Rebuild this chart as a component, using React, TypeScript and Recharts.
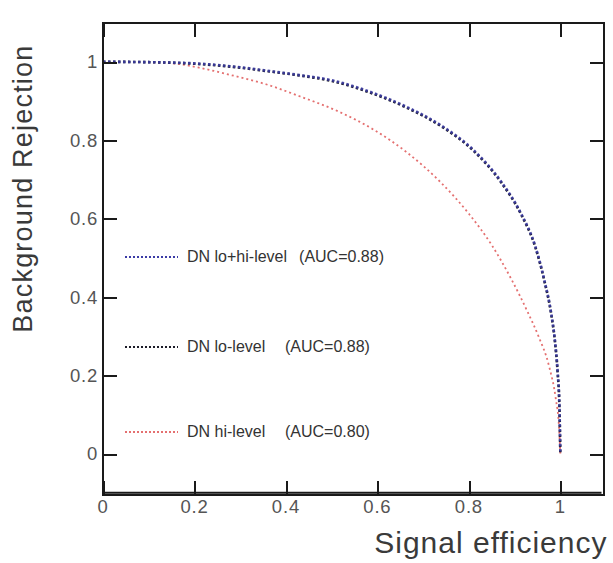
import React from "react";
import { LineChart, Line, XAxis, YAxis, Legend } from "recharts";

// ROC curves (signal efficiency -> background rejection)
const loHiEff = [0, 0.1, 0.2, 0.3, 0.36, 0.43, 0.5, 0.58, 0.66, 0.74, 0.81, 0.87, 0.914, 0.945, 0.965, 0.98, 0.988, 0.994, 0.998, 1.0];
const loHiRej = [1.0, 0.999, 0.996, 0.986, 0.977, 0.966, 0.953, 0.925, 0.887, 0.837, 0.775, 0.695, 0.613, 0.53, 0.443, 0.358, 0.29, 0.21, 0.12, 0.0];

const loEff = [0, 0.1, 0.2, 0.3, 0.36, 0.43, 0.5, 0.58, 0.66, 0.74, 0.81, 0.87, 0.914, 0.945, 0.965, 0.98, 0.988, 0.994, 0.998, 1.0];
const loRej = [1.0, 0.999, 0.995, 0.985, 0.976, 0.965, 0.951, 0.923, 0.885, 0.835, 0.773, 0.693, 0.611, 0.528, 0.441, 0.356, 0.288, 0.208, 0.118, 0.0];

const hiEff = [0, 0.1, 0.16, 0.21, 0.28, 0.358, 0.43, 0.517, 0.59, 0.663, 0.736, 0.8, 0.85, 0.892, 0.929, 0.952, 0.976, 0.99, 0.997, 1.0];
const hiRej = [1.0, 0.999, 0.995, 0.985, 0.966, 0.942, 0.912, 0.872, 0.828, 0.77, 0.695, 0.612, 0.532, 0.447, 0.36, 0.3, 0.22, 0.14, 0.07, 0.0];

const seriesNames = ["DN lo+hi-level", "DN lo-level", "DN hi-level"];
const seriesAuc = ["(AUC=0.88)", "(AUC=0.88)", "(AUC=0.80)"];

const xTicks = [0, 0.2, 0.4, 0.6, 0.8, 1];
const yTicks = [0, 0.2, 0.4, 0.6, 0.8, 1];
const xDomain: [number, number] = [0, 1.09];
const yDomain: [number, number] = [-0.1, 1.1];

const toPoints = (xs: number[], ys: number[]) => xs.map((x, i) => ({ eff: x, rej: ys[i] }));

// layout
const W = 613;
const H = 563;
const MARGIN = { top: 22.6, right: 11.5, left: 0, bottom: 0 };
const X_AXIS_H = 70.3;
const Y_AXIS_W = 103;
const PLOT_L = MARGIN.left + Y_AXIS_W;
const PLOT_T = MARGIN.top;
const PLOT_W = W - MARGIN.left - MARGIN.right - Y_AXIS_W;
const PLOT_H = H - MARGIN.top - MARGIN.bottom - X_AXIS_H;

const FONT = '"Liberation Sans", Arial, Helvetica, sans-serif';
const TICK = 13;
const FRAME = "#1a1a1a";

const styles: Record<string, { stroke: string; width: number; dash: string; opacity?: number }> = {
  "DN lo+hi-level": { stroke: "#3b3ba6", width: 2.6, dash: "2.5 2.5", opacity: 0.85 },
  "DN lo-level": { stroke: "#1c1c28", width: 2.6, dash: "2.5 2.5" },
  "DN hi-level": { stroke: "#e47070", width: 1.8, dash: "2 3" },
};

function BottomTick({ x, y, payload }: any) {
  return (
    <text x={x} y={y + 20} textAnchor="middle" fontSize={18.5} fill="#555" fontFamily={FONT} letterSpacing={0.8}>
      {payload.value}
    </text>
  );
}

function LeftTick({ x, y, payload }: any) {
  return (
    <text x={x - 5} y={y + 6.7} textAnchor="end" fontSize={18.5} fill="#555" fontFamily={FONT} letterSpacing={0.8}>
      {payload.value}
    </text>
  );
}

// box frame (CSS border) plus inward ticks on all four sides, laid over the plot area
function Frame() {
  const px = (v: number) => ((v - xDomain[0]) / (xDomain[1] - xDomain[0])) * PLOT_W;
  const py = (v: number) => ((yDomain[1] - v) / (yDomain[1] - yDomain[0])) * PLOT_H;
  const tickStyle = { position: "absolute" as const, background: FRAME };
  return (
    <div
      style={{
        position: "absolute",
        left: PLOT_L - 1,
        top: PLOT_T - 1,
        width: PLOT_W,
        height: PLOT_H,
        border: `2px solid ${FRAME}`,
        pointerEvents: "none",
        zIndex: 5,
      }}
    >
      {xTicks.map((t) => (
        <React.Fragment key={`x${t}`}>
          <div style={{ ...tickStyle, left: px(t) - 1, top: 0, width: 2, height: TICK }} />
          <div style={{ ...tickStyle, left: px(t) - 1, top: PLOT_H - TICK, width: 2, height: TICK }} />
        </React.Fragment>
      ))}
      {yTicks.map((t) => (
        <React.Fragment key={`y${t}`}>
          <div style={{ ...tickStyle, left: 0, top: py(t) - 1, width: TICK, height: 2 }} />
          <div style={{ ...tickStyle, left: PLOT_W - TICK, top: py(t) - 1, width: TICK, height: 2 }} />
        </React.Fragment>
      ))}
    </div>
  );
}

const xTitle = ({ viewBox }: any) => (
  <text
    x={viewBox.x + viewBox.width + 6}
    y={viewBox.y + 60.6}
    textAnchor="end"
    fontSize={30}
    fill="#3a3a3a"
    fontFamily={FONT}
    letterSpacing={1}
  >
    Signal efficiency
  </text>
);

const yTitle = ({ viewBox }: any) => {
  const cx = viewBox.x + 32;
  const cy = viewBox.y + 166;
  return (
    <text
      x={cx}
      y={cy}
      transform={`rotate(-90 ${cx} ${cy})`}
      textAnchor="middle"
      fontSize={27}
      fill="#3a3a3a"
      fontFamily={FONT}
      letterSpacing={1.2}
    >
      Background Rejection
    </text>
  );
};

const rowTops = [0, 90, 175];

function LegendContent({ payload }: any) {
  const items = [...(payload || [])].sort(
    (a: any, b: any) => seriesNames.indexOf(a.value) - seriesNames.indexOf(b.value)
  );
  return (
    <div style={{ position: "relative", width: 300, height: 200, fontFamily: FONT }}>
      {items.map((entry: any, i: number) => {
        const idx = seriesNames.indexOf(entry.value);
        const s = styles[entry.value];
        return (
          <div
            key={entry.value}
            style={{ position: "absolute", left: 0, top: rowTops[i], height: 20, display: "flex", alignItems: "center", whiteSpace: "nowrap" }}
          >
            <svg width={56} height={10} style={{ marginRight: 6 }}>
              <line x1={0} x2={53} y1={5} y2={5} stroke={s.stroke} strokeWidth={1.8} strokeDasharray="2 2" />
            </svg>
            <span style={{ display: "inline-block", minWidth: 86, fontSize: 16, color: "#333" }}>{entry.value}</span>
            <span style={{ marginLeft: 12, fontSize: 16, color: "#333" }}>{seriesAuc[idx]}</span>
          </div>
        );
      })}
    </div>
  );
}

export default function App() {
  const order = ["DN hi-level", "DN lo-level", "DN lo+hi-level"];
  const dataFor: Record<string, { eff: number; rej: number }[]> = {
    "DN lo+hi-level": toPoints(loHiEff, loHiRej),
    "DN lo-level": toPoints(loEff, loRej),
    "DN hi-level": toPoints(hiEff, hiRej),
  };
  return (
    <div style={{ position: "absolute", left: 0, top: 0, width: W, height: H, background: "#fff" }}>
      <LineChart width={W} height={H} margin={MARGIN}>
        <XAxis
          dataKey="eff"
          type="number"
          domain={xDomain}
          ticks={xTicks}
          allowDataOverflow
          height={X_AXIS_H}
          tickSize={0}
          tickMargin={0}
          tickLine={false}
          axisLine={{ stroke: FRAME, strokeWidth: 2 }}
          tick={<BottomTick />}
          interval={0}
          label={xTitle}
        />
        <YAxis
          type="number"
          domain={yDomain}
          ticks={yTicks}
          allowDataOverflow
          width={Y_AXIS_W}
          tickSize={0}
          tickMargin={0}
          tickLine={false}
          axisLine={{ stroke: FRAME, strokeWidth: 2 }}
          tick={<LeftTick />}
          interval={0}
          label={yTitle}
        />
        {order.map((name) => (
          <Line
            key={name}
            name={name}
            data={dataFor[name]}
            dataKey="rej"
            type="monotone"
            stroke={styles[name].stroke}
            strokeWidth={styles[name].width}
            strokeDasharray={styles[name].dash}
            strokeOpacity={styles[name].opacity ?? 1}
            dot={false}
            isAnimationActive={false}
          />
        ))}
        <Legend
          layout="vertical"
          align="center"
          verticalAlign="middle"
          wrapperStyle={{ left: 125, top: 247, width: 300 }}
          content={<LegendContent />}
        />
      </LineChart>
      <Frame />
    </div>
  );
}
